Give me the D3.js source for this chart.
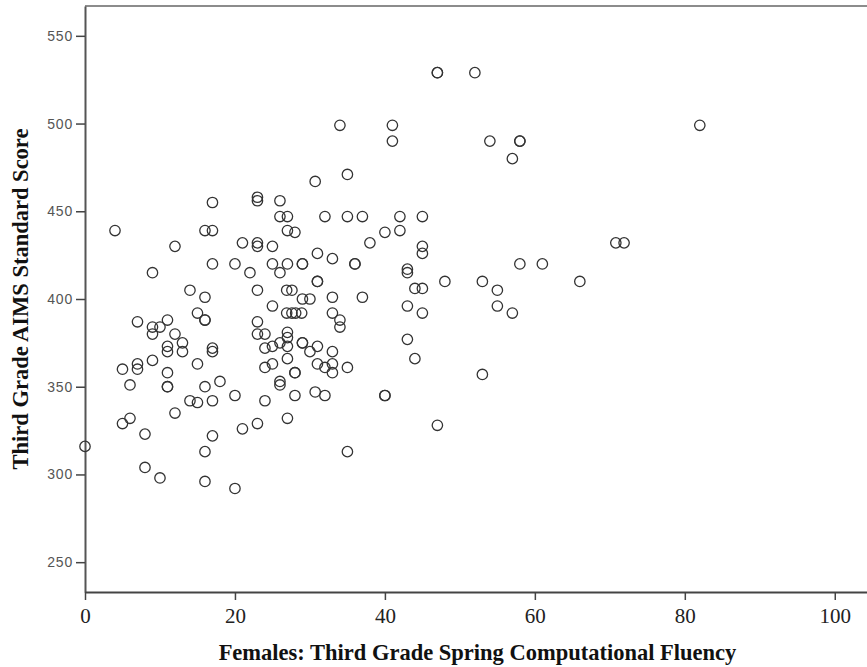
<!DOCTYPE html>
<html>
<head>
<meta charset="utf-8">
<script src="https://cdn.jsdelivr.net/npm/d3@7"></script>
<style>
  html, body { margin: 0; padding: 0; background: #fff; }
  svg { display: block; }
</style>
</head>
<body>
<script>
// Spring computational fluency (females) vs. third grade AIMS standard score
const fluency = [
  0, 4, 5, 5, 6, 6, 7, 7, 7, 8, 8,
  9, 9, 9, 9, 10, 10, 11, 11, 11, 11, 11, 11,
  12, 12, 12, 13, 13, 14, 14, 15, 15, 15,
  16, 16, 16, 16, 16, 16, 16,
  17, 17, 17, 17, 17, 17, 17, 18, 20, 20, 20, 21, 21, 22,
  23, 23, 23, 23, 23, 23, 23, 23,
  24, 24, 24, 24, 25, 25, 25, 25, 25,
  26, 26, 26, 26, 26, 26,
  27, 27, 27, 26.9, 27.6, 26.9, 27.6, 27, 27, 27, 27, 27,
  28.1, 28.9, 28, 28, 28, 28,
  29, 29, 29, 29, 29, 30, 30, 30.7, 30.7,
  31, 31, 31, 31, 31, 32, 32, 32,
  33, 33, 33, 33, 33, 33, 34, 34, 34, 35, 35, 35, 35, 36, 36, 37, 37, 38,
  40, 40, 40, 41, 41, 42, 42, 43, 43, 43, 43, 44, 44,
  45, 45, 45, 45, 45, 47, 47, 47, 48, 52, 53, 53, 54, 55, 55,
  57, 57, 58, 58, 58, 61, 66, 70.8, 71.9, 82
];
const aimsScore = [
  316, 439, 360, 329, 351, 332, 387, 363, 360, 323, 304,
  415, 384, 380, 365, 384, 298, 388, 373, 370, 358, 350, 350,
  430, 380, 335, 375, 370, 405, 342, 392, 363, 341,
  439, 401, 388, 388, 350, 313, 296,
  455, 439, 420, 372, 370, 342, 322, 353, 420, 345, 292, 432, 326, 415,
  458, 456, 432, 430, 405, 387, 380, 329,
  380, 372, 361, 342, 430, 420, 396, 373, 363,
  456, 447, 415, 375, 353, 351,
  447, 439, 420, 392, 392, 405, 405, 381, 378, 373, 366, 332,
  392, 392, 438, 358, 358, 345,
  420, 420, 400, 375, 375, 400, 370, 467, 347,
  426, 410, 410, 373, 363, 447, 361, 345,
  423, 401, 392, 370, 363, 358, 499, 388, 384, 471, 447, 361, 313, 420, 420, 447, 401, 432,
  438, 345, 345, 499, 490, 447, 439, 417, 415, 396, 377, 406, 366,
  447, 430, 426, 406, 392, 529, 529, 328, 410, 529, 410, 357, 490, 405, 396,
  480, 392, 490, 490, 420, 420, 410, 432, 432, 499
];
const xTicks = [0, 20, 40, 60, 80, 100];
const yTicks = [250, 300, 350, 400, 450, 500, 550];
const xTitle = "Females: Third Grade Spring Computational Fluency";
const yTitle = "Third Grade AIMS Standard Score";

const W = 867, H = 667;
const plotL = 85, plotT = 6, plotR = 870, plotB = 592;

const svg = d3.select("body").append("svg")
  .attr("width", W).attr("height", H);

const x = d3.scaleLinear().domain([0, 104.7]).range([plotL, plotR]);
const y = d3.scaleLinear().domain([233, 567]).range([plotB, plotT]);

// frame: top border
svg.append("line")
  .attr("x1", plotL).attr("x2", plotR).attr("y1", plotT).attr("y2", plotT)
  .attr("stroke", "#8c8c8c").attr("stroke-width", 2);

// y axis
const yAxis = svg.append("g")
  .attr("transform", `translate(${plotL},0)`)
  .call(d3.axisLeft(y).tickValues(yTicks).tickSize(9).tickSizeOuter(0)
    .tickPadding(3).tickFormat(d3.format("d")));
yAxis.select(".domain").attr("stroke", "#555").attr("stroke-width", 2);
yAxis.selectAll(".tick line").attr("stroke", "#444").attr("stroke-width", 1.5);
yAxis.selectAll(".tick text")
  .attr("fill", "#555")
  .style("font-family", "'Liberation Sans', Arial, sans-serif")
  .style("font-size", "14px")
  .style("letter-spacing", "0.8px");

// x axis
const xAxis = svg.append("g")
  .attr("transform", `translate(0,${plotB})`)
  .call(d3.axisBottom(x).tickValues(xTicks).tickSize(8).tickSizeOuter(0)
    .tickPadding(8).tickFormat(d3.format("d")));
xAxis.select(".domain").attr("stroke", "#444").attr("stroke-width", 2);
xAxis.selectAll(".tick line").attr("stroke", "#444").attr("stroke-width", 1.5);
xAxis.selectAll(".tick text")
  .attr("fill", "#222")
  .style("font-family", "'Liberation Serif', 'Times New Roman', serif")
  .style("font-size", "21px");

// points
svg.append("g").selectAll("circle")
  .data(fluency.map((f, i) => [f, aimsScore[i]]))
  .join("circle")
  .attr("cx", d => x(d[0]))
  .attr("cy", d => y(d[1]))
  .attr("r", 5.2)
  .attr("fill", "none")
  .attr("stroke", "#333")
  .attr("stroke-width", 1.3);

// axis titles
svg.append("text")
  .attr("x", (plotL + plotR) / 2).attr("y", 660)
  .attr("text-anchor", "middle")
  .style("font-family", "'Liberation Serif', 'Times New Roman', serif")
  .style("font-weight", "bold")
  .style("font-size", "22.5px")
  .attr("fill", "#111")
  .text(xTitle);

svg.append("text")
  .attr("transform", `translate(28,${(plotT + plotB) / 2}) rotate(-90)`)
  .attr("text-anchor", "middle")
  .style("font-family", "'Liberation Serif', 'Times New Roman', serif")
  .style("font-weight", "bold")
  .style("font-size", "22.5px")
  .attr("fill", "#111")
  .text(yTitle);
</script>
</body>
</html>
